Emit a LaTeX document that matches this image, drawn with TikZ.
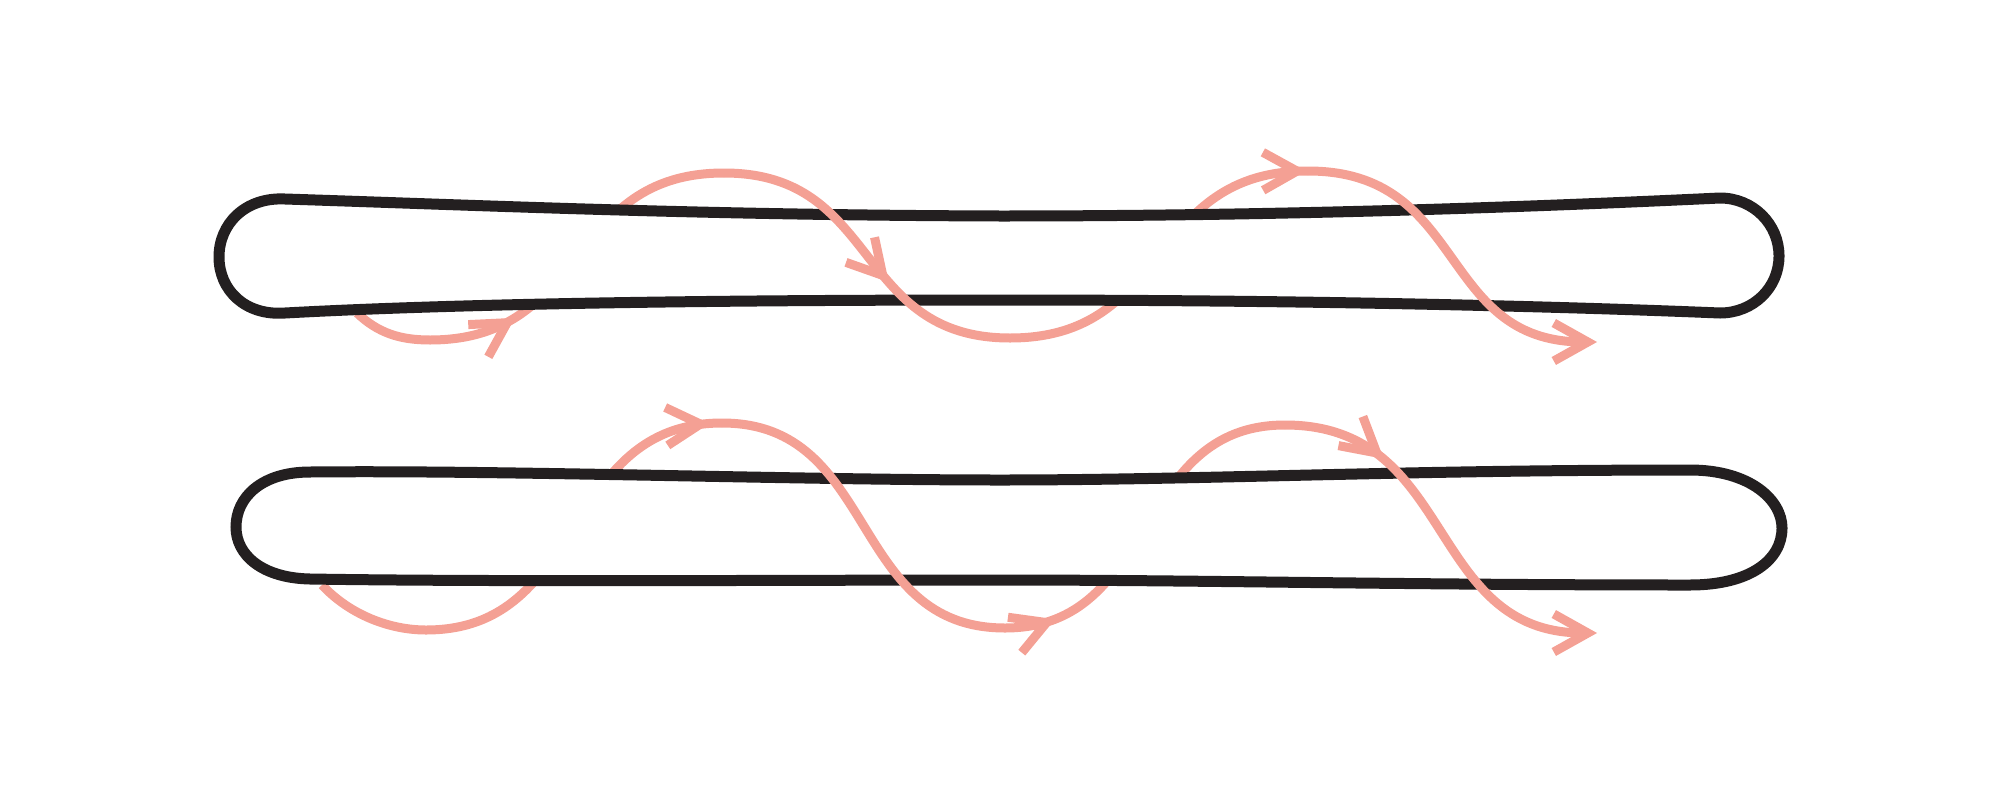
\documentclass[tikz,border=0pt]{standalone}
\usetikzlibrary{arrows.meta,decorations.markings}
\definecolor{ink}{RGB}{35,31,32}
\definecolor{salmon}{RGB}{244,160,148}
\tikzset{
  body/.style={draw=ink, line width=5.5pt, fill=white},
  wave/.style={salmon, line width=4.5pt},
  barb/.tip={Straight Barb[length=17pt,width=19pt]},
  tipend/.style={-barb},
  midtip/.style={postaction={decorate}, decoration={markings, mark=at position #1 with {\arrow{barb}}}}
}
\begin{document}
\begin{tikzpicture}[x=0.5pt,y=-0.5pt]
\path[use as bounding box] (0,0) rectangle (2000,803);
% knots of upper wave
\coordinate (ua0) at (357,313);
\coordinate (ua) at (430,340);
\coordinate (ub) at (724,173);
\coordinate (uc) at (1010,338);
\coordinate (ud) at (1308,171);
\coordinate (ue) at (1597,342);
% knots of lower wave
\coordinate (la0) at (322,585);
\coordinate (la) at (426,630);
\coordinate (lb) at (722,423);
\coordinate (lc) at (1005,628);
\coordinate (ld) at (1285,425);
\coordinate (le) at (1597,633);
% ---- back parts of the waves (behind the strands)
\draw[wave, midtip=0.39] (ua0) .. controls (378,333) and (400,340) .. (ua) .. controls (590,340) and (564,173) .. (ub);
\draw[wave, midtip=0.995] (uc) .. controls (1173,338) and (1145,171) .. (ud);
\draw[wave, midtip=0.975] (la0) .. controls (350,615) and (390,630) .. (la) .. controls (588,630) and (560,423) .. (lb);
\draw[wave, midtip=0.14] (lc) .. controls (1159,628) and (1131,425) .. (ld);
% ---- strands
\draw[body] (285,199) .. controls (500,206) and (700,215) .. (1000,216)
  .. controls (1300,216) and (1550,206) .. (1720,198)
  .. controls (1753,198) and (1779,224) .. (1779,256)
  .. controls (1779,288) and (1753,313) .. (1720,313)
  .. controls (1550,306) and (1300,300) .. (1000,300)
  .. controls (700,300) and (450,304) .. (285,313)
  .. controls (245,316) and (219,290) .. (219,257)
  .. controls (219,224) and (245,197) .. (285,199) -- cycle;
\draw[body] (310,472) .. controls (500,470) and (800,480) .. (1000,480)
  .. controls (1200,480) and (1400,470) .. (1690,470)
  .. controls (1750,470) and (1782,500) .. (1782,528)
  .. controls (1782,560) and (1750,585) .. (1690,585)
  .. controls (1400,585) and (1200,580) .. (1000,580)
  .. controls (800,580) and (500,582) .. (310,579)
  .. controls (262,578) and (236,555) .. (236,527)
  .. controls (236,497) and (262,472) .. (310,472) -- cycle;
% ---- front parts of the waves
\draw[wave, midtip=0.6] (ub) .. controls (881,173) and (853,338) .. (uc);
\draw[wave, tipend] (ud) .. controls (1468,171) and (1437,342) .. (ue);
\draw[wave] (lb) .. controls (879,423) and (848,628) .. (lc);
\draw[wave, tipend, midtip=0.27] (ld) .. controls (1457,425) and (1425,633) .. (le);
\end{tikzpicture}
\end{document}
